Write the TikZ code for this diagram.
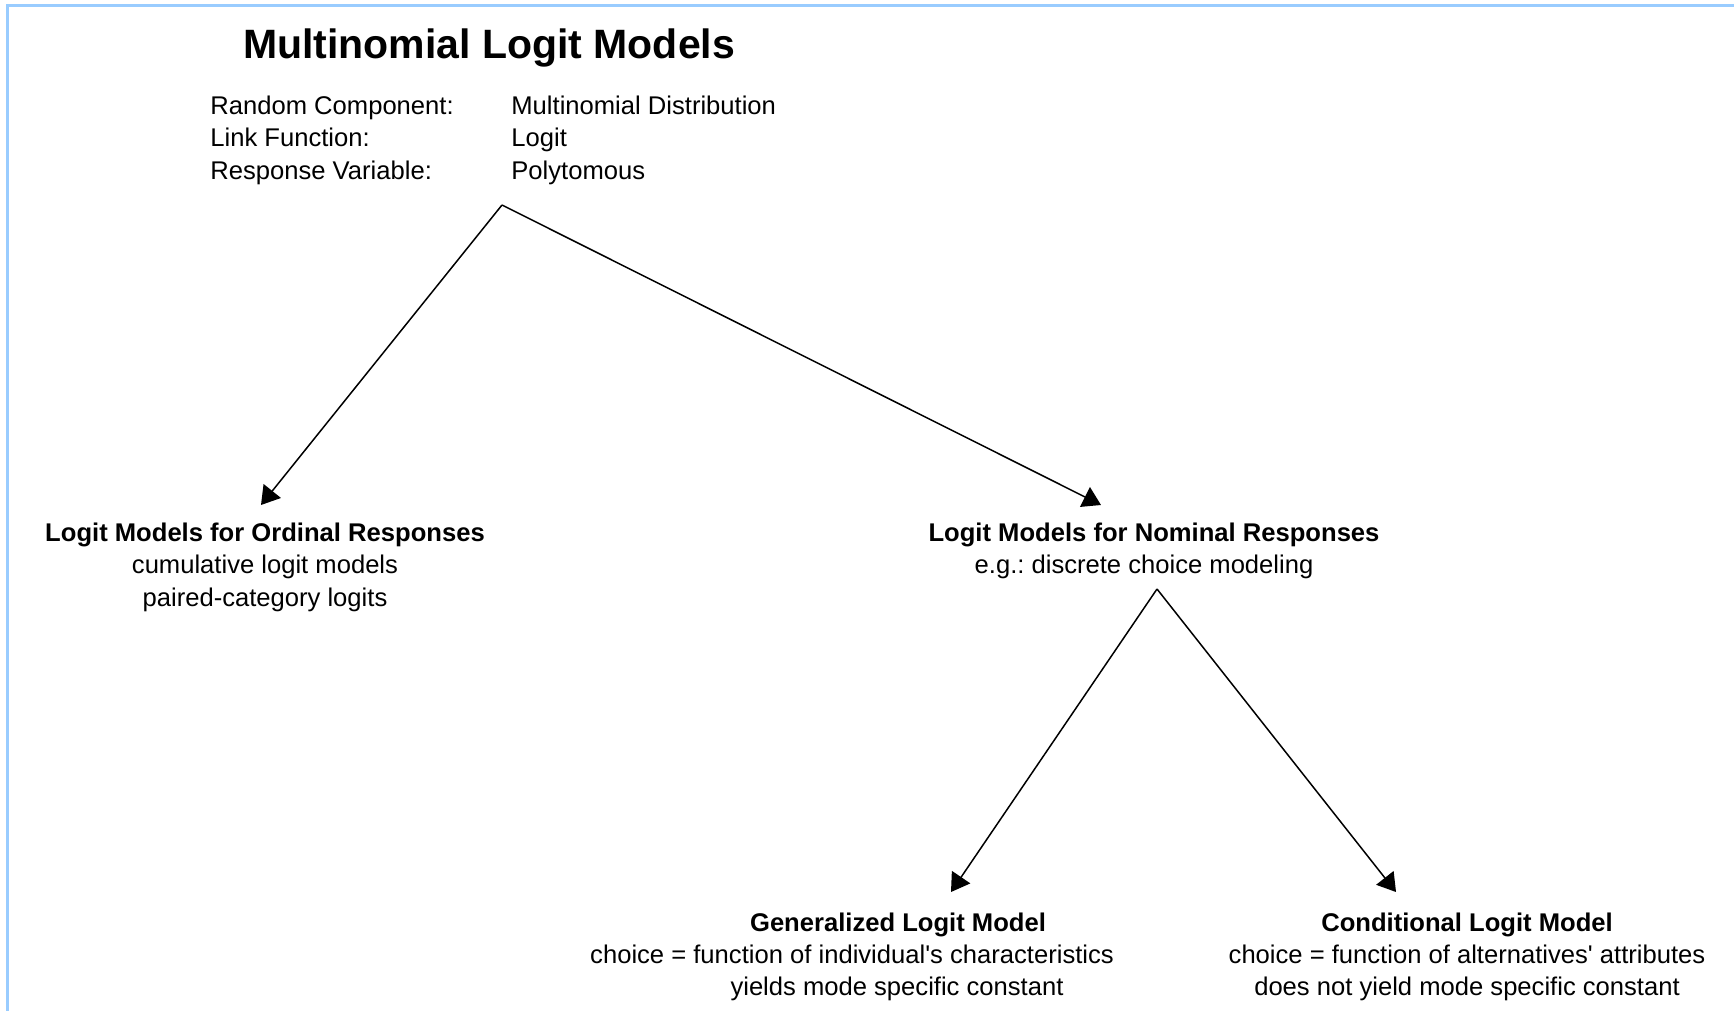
\documentclass[tikz,border=0pt]{standalone}
\usepackage{fontspec}
\setmainfont{Liberation Sans}
\usetikzlibrary{arrows.meta}
\definecolor{frameblue}{HTML}{99CCFF}
\frenchspacing
\begin{document}
\begin{tikzpicture}[x=0.5pt,y=-0.5pt,
  body/.style={anchor=base,inner sep=0pt,font=\fontsize{12.8}{16}\selectfont},
  head/.style={anchor=base,inner sep=0pt,font=\fontsize{12.8}{16}\selectfont\bfseries},
  lbl/.style={anchor=base west,inner sep=0pt,font=\fontsize{12.8}{16}\selectfont},
  link/.style={line width=0.75pt,-{Triangle[length=9pt,width=11pt]}},
  frameline/.style={draw=frameblue,line width=1.5pt}]
\useasboundingbox (0,0) rectangle (1734,1011);

% frame edges
\draw[frameline] (7,1011) -- (7,6) -- (1734,6);

% title and model summary
\node[anchor=base,inner sep=0pt,font=\fontsize{20.5}{24}\selectfont\bfseries] (title) at (489,59) {Multinomial Logit Models};
\node[lbl] (rc)  at (210,115) {Random Component:};
\node[lbl] (lf)  at (210,147) {Link Function:};
\node[lbl] (rv)  at (210,179) {Response Variable:};
\node[lbl] (rcv) at (511,115) {Multinomial Distribution};
\node[lbl] (lfv) at (511,147) {Logit};
\node[lbl] (rvv) at (511,179) {Polytomous};

% ordinal branch
\node[head] (ord)  at (265,541) {Logit Models for Ordinal Responses};
\node[body] (ord2) at (265,573) {cumulative logit models};
\node[body] (ord3) at (265,606) {paired-category logits};

% nominal branch
\node[head] (nom)  at (1154,541) {Logit Models for Nominal Responses};
\node[body] (nom2) at (1144,573) {e.g.: discrete choice modeling};

% generalized logit
\node[head] (gen)  at (898,931) {Generalized Logit Model};
\node[body] (gen2) at (852,963) {choice = function of individual\textquotesingle s characteristics};
\node[body] (gen3) at (897,995) {yields mode specific constant};

% conditional logit
\node[head] (con)  at (1467,931) {Conditional Logit Model};
\node[body] (con2) at (1467,963) {choice = function of alternatives\textquotesingle{} attributes};
\node[body] (con3) at (1467,995) {does not yield mode specific constant};

% branching points and arrow tips
\coordinate (top)    at (502,205);
\coordinate (ordtip) at (261,505);
\coordinate (nomtip) at (1101,505);
\coordinate (mid)    at (1157,589);
\coordinate (gentip) at (951,892);
\coordinate (contip) at (1396,892);

\draw[link] (top) -- (ordtip);
\draw[link] (top) -- (nomtip);
\draw[link] (mid) -- (gentip);
\draw[link] (mid) -- (contip);
\end{tikzpicture}
\end{document}
